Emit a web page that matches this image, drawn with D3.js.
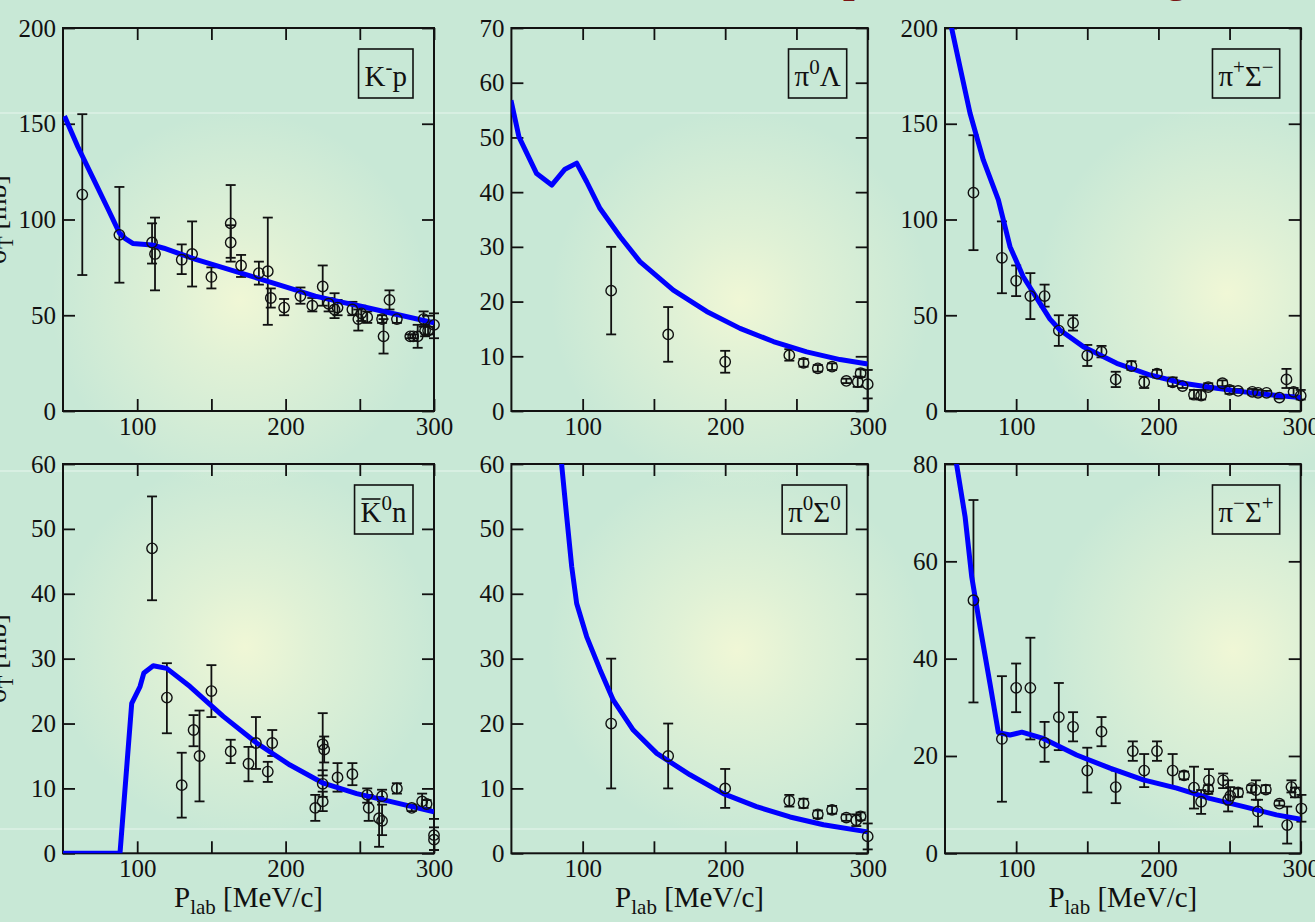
<!DOCTYPE html>
<html>
<head>
<meta charset="utf-8">
<script src="https://cdn.jsdelivr.net/npm/d3@7"></script>
<style>
  html, body { margin: 0; padding: 0; overflow: hidden; background: #c8e8d6; }
  svg { display: block; }
  text { font-family: "Liberation Serif", "Times New Roman", serif; fill: #111; }
</style>
</head>
<body>
<svg id="chart" width="1315" height="922"></svg>
<script>
// ---- data: [P_lab, sigma] for curves, [P_lab, sigma, low, high] for points ----
const xDomain = [50, 300];
const xTicks = [100, 150, 200, 250, 300];
const xTickLabels = [100, 200, 300];

const kpYTicks = [0, 50, 100, 150, 200];
const pi0LambdaYTicks = [0, 10, 20, 30, 40, 50, 60, 70];
const pipSigmamYTicks = [0, 50, 100, 150, 200];
const k0nYTicks = [0, 10, 20, 30, 40, 50, 60];
const pi0Sigma0YTicks = [0, 10, 20, 30, 40, 50, 60];
const pimSigmapYTicks = [0, 20, 40, 60, 80];

// labels as [text, kind] pieces: '' normal, 'sup' superscript, 'bar' overlined
const kpLabel = [['K', ''], ['-', 'sup'], ['p', '']];
const pi0LambdaLabel = [['π', ''], ['0', 'sup'], ['Λ', '']];
const pipSigmamLabel = [['π', ''], ['+', 'sup'], ['Σ', ''], ['−', 'sup']];
const k0nLabel = [['K', 'bar'], ['0', 'sup'], ['n', '']];
const pi0Sigma0Label = [['π', ''], ['0', 'sup'], ['Σ', ''], ['0', 'sup']];
const pimSigmapLabel = [['π', ''], ['−', 'sup'], ['Σ', ''], ['+', 'sup']];

const kpCurve = [[51, 154], [60, 138], [70, 122], [80, 106], [88, 93], [92, 90], [97, 87.5],
  [110, 86.7], [118, 85], [140, 79], [170, 72], [200, 64.8], [220, 60], [237, 57],
  [250, 54.8], [270, 51.3], [300, 46]];
const kpData = [
  [63, 113, 71, 155], [88, 92, 67, 117], [110, 88, 77, 98], [112, 82, 63, 101],
  [130, 79, 71.5, 87], [137, 82, 65, 99], [150, 70, 64, 75], [163, 98, 78, 118],
  [163, 88, 80, 97], [170, 76, 70, 81.5], [182, 72, 66, 78], [188, 73, 45, 101],
  [190, 59, 54, 64], [199, 54, 50, 58.5], [210, 60, 56, 64.5], [218, 55, 52, 59],
  [225, 65, 55, 76], [229, 56, 52, 59], [233, 53, 48.5, 61.5], [235, 54, 50, 58],
  [245, 53, 50, 57], [249, 48, 42, 53], [251, 51, 47, 55], [255, 49, 46, 52],
  [265, 48, 46, 50], [266, 39, 30, 48], [270, 58, 53, 63], [275, 48, 46, 50],
  [284, 39, 38, 40], [286, 39, 38, 40], [289, 39, 33, 45], [293, 48, 44, 52],
  [294, 42, 39, 45], [296, 42, 40, 44], [300, 45, 38, 51]
];

const pi0LambdaCurve = [[49.7, 56.8], [55.3, 50.1], [67.7, 43.4], [78.3, 41.3], [87.6, 44.2],
  [95.8, 45.3], [102.8, 41.9], [112.2, 37], [126.2, 31.9], [140.2, 27.3], [163.6, 22.1],
  [187, 18.2], [210.4, 15.1], [233.8, 12.7], [257.2, 10.8], [280.6, 9.4], [300, 8.6]];
const pi0LambdaData = [
  [120, 22, 14, 30], [160, 14, 9, 19], [200, 9, 7, 11], [245, 10.2, 9.2, 11.3],
  [255, 8.8, 8.1, 9.5], [265, 7.8, 7.2, 8.4], [275, 8.1, 7.5, 8.7], [285, 5.5, 5.1, 5.9],
  [293, 5.3, 4.4, 6.3], [295, 6.9, 6.2, 7.6], [300, 4.9, 2.3, 7.5]
];

const pipSigmamCurve = [[53, 205], [54.7, 199.8], [60.5, 179.8], [67.6, 155.5], [76.9, 131.1],
  [87.5, 110.2], [95.7, 85.8], [105, 70.1], [116.8, 56.2], [123.8, 48], [130.8, 42.3],
  [147.2, 33.6], [170.7, 24.9], [194.1, 18.8], [217.5, 14.5], [240.9, 11.9], [264.3, 9.6],
  [287.7, 7.8], [300, 7.1]];
const pipSigmamData = [
  [70, 114, 84, 144], [90, 80, 61.5, 99], [100, 68, 60, 76], [110, 60, 48, 72],
  [120, 60, 54.5, 66], [130, 42, 34, 50], [140, 46, 42, 50], [150, 29, 23.5, 34.5],
  [160, 31, 28, 34], [170, 16.5, 12.5, 20.5], [181, 23.5, 21.5, 26], [190, 15, 12, 18],
  [199, 19.5, 17.5, 21.5], [210, 15, 13, 17.5], [217, 13, 12, 14], [225, 8.5, 6.5, 11],
  [230, 8, 6, 11], [235, 12.5, 11, 14.5], [245, 14.5, 13, 16], [250, 11, 9, 13],
  [256, 10.5, 9.5, 11.5], [266, 10, 8.5, 11.5], [270, 9.5, 8, 11], [276, 9.5, 8.5, 10.5],
  [285, 7, 6.5, 7.5], [290, 16.5, 12, 22], [295, 10, 8, 12], [300, 8, 6, 11]
];

const k0nCurve = [[50, 0], [88.4, 0], [96.3, 23.1], [101.9, 25.7], [104.5, 27.8], [110.8, 28.9],
  [119.9, 28.5], [135.6, 25.7], [158, 21.1], [180.5, 17], [203, 13.6], [225.4, 10.8],
  [247.9, 9.2], [270.4, 8], [300, 6.4]];
const k0nData = [
  [110, 47, 39, 55], [120, 24, 18.5, 29.3], [130, 10.5, 5.5, 15.5], [138, 19, 16.5, 21.3],
  [142, 15, 8, 22], [150, 25, 21, 29], [163, 15.7, 13.9, 17.5], [175, 13.8, 11.1, 16.4],
  [180, 17, 13, 21], [188, 12.6, 11, 14.1], [191, 17, 15, 19], [220, 7, 5, 9],
  [225, 16.8, 12, 21.6], [226, 16, 14, 18], [225, 10.7, 8.7, 12.8], [225, 8, 6.5, 9.5],
  [235, 11.7, 9.5, 13.9], [245, 12.2, 10.5, 13.9], [255, 9, 7.8, 10], [256, 7, 5, 9],
  [263, 5.4, 1, 8.7], [265, 5, 2.8, 7.5], [265, 8.8, 8, 9.8], [275, 10, 9.2, 10.8],
  [285, 7, 6.5, 7.5], [292, 8, 7, 9.2], [295, 7.6, 7, 8.2], [300, 2.8, 0.5, 5.3],
  [300, 2.1, 0.5, 4]
];

const pi0Sigma0Curve = [[84.6, 63], [85.3, 59.8], [88.8, 51.9], [92.3, 44.2], [95.8, 38.5],
  [102.8, 33.4], [112.2, 28.3], [121.5, 23.6], [135.5, 19], [152, 15.4], [175.3, 12.1],
  [198.7, 9.2], [222, 7.2], [245.5, 5.6], [269, 4.4], [300, 3.3]];
const pi0Sigma0Data = [
  [120, 20, 10, 30], [160, 15, 10, 20], [200, 10, 7, 13], [245, 8.1, 7.2, 9],
  [255, 7.7, 7, 8.4], [265, 6, 5.4, 6.6], [275, 6.7, 6.1, 7.3], [285, 5.5, 5, 6],
  [292, 5.1, 4.2, 6], [295, 5.7, 5.1, 6.3], [300, 2.6, 0.6, 4.6]
];

const pimSigmapCurve = [[57.5, 82], [58.2, 79.8], [64.1, 69.2], [68.8, 56.8], [74.6, 46.6],
  [81.6, 34.9], [87.5, 24.8], [95.7, 24.3], [104, 24.9], [119, 23.6], [142.5, 20.2],
  [166, 17.5], [189.4, 15.1], [212.8, 13.4], [236, 11.3], [260, 9.6], [283, 7.9], [300, 7]];
const pimSigmapData = [
  [70, 52, 31, 72.6], [90, 23.5, 10.6, 36.4], [100, 34, 29, 39], [110, 34, 23.4, 44.3],
  [120, 22.7, 18.8, 27], [130, 28, 21.2, 35], [140, 26, 23, 29], [150, 17, 12.5, 21.7],
  [160, 25, 22, 28], [170, 13.6, 10.3, 17], [182, 21, 19, 23], [190, 17, 13.6, 20.4],
  [199, 21, 19, 23], [210, 17, 13.6, 20.4], [218, 16, 15.2, 16.8], [225, 13.5, 9.2, 17.8],
  [230, 10.6, 8.1, 13], [235, 13.2, 12.2, 14], [235.5, 15, 12.7, 17.3], [245.5, 15, 13.4, 16.4],
  [249, 11, 8.6, 15], [250.5, 11.8, 10, 13.6], [256, 12.5, 11.6, 13.3], [265.5, 13.4, 12.5, 14],
  [268.5, 13, 11, 15], [270, 8.6, 5.5, 11], [275.5, 13.1, 12.4, 14], [285, 10.2, 9.8, 10.8],
  [290.5, 5.8, 2, 9.6], [293.5, 13.6, 12.5, 15], [296, 12.5, 11.5, 13.5], [300.5, 9.2, 6.5, 12]
];

// ---- layout ----
const width = 1315;
const height = 922;
// plot frames: [left, top, right, bottom]
const frames = [
  [63, 28, 434, 411], [511.4, 28, 867.7, 411], [945, 28, 1300.7, 411],
  [63, 464, 434, 853.3], [511.4, 464, 867.7, 853.3], [945, 464, 1300.7, 853.3]
];
const glowCenters = [[240, 300], [740, 300], [1227, 293], [245, 647], [737, 650], [1233, 650]];
const bgColor = '#c8e8d6';
const glowColor = '#f0f7d6';
const curveColor = '#0000ff';
const inkColor = '#111';
const tickLen = 12;

const panels = [
  { label: kpLabel, yTicks: kpYTicks, curve: kpCurve, points: kpData },
  { label: pi0LambdaLabel, yTicks: pi0LambdaYTicks, curve: pi0LambdaCurve, points: pi0LambdaData },
  { label: pipSigmamLabel, yTicks: pipSigmamYTicks, curve: pipSigmamCurve, points: pipSigmamData },
  { label: k0nLabel, yTicks: k0nYTicks, curve: k0nCurve, points: k0nData },
  { label: pi0Sigma0Label, yTicks: pi0Sigma0YTicks, curve: pi0Sigma0Curve, points: pi0Sigma0Data },
  { label: pimSigmapLabel, yTicks: pimSigmapYTicks, curve: pimSigmapCurve, points: pimSigmapData }
];

const svg = d3.select('#chart');
const defs = svg.append('defs');

function drawBackground() {
  svg.append('rect').attr('width', width).attr('height', height).attr('fill', bgColor);

  glowCenters.forEach(([cx, cy], i) => {
    const grad = defs.append('radialGradient').attr('id', 'glow' + i);
    grad.append('stop').attr('offset', '0%').attr('stop-color', glowColor).attr('stop-opacity', 1);
    grad.append('stop').attr('offset', '35%').attr('stop-color', glowColor).attr('stop-opacity', 0.6);
    grad.append('stop').attr('offset', '100%').attr('stop-color', glowColor).attr('stop-opacity', 0);
    svg.append('circle')
      .attr('cx', cx).attr('cy', cy).attr('r', 190)
      .attr('fill', `url(#glow${i})`);
  });

  // faint light streaks of the slide
  [113, 471, 829].forEach(yy => {
    svg.append('line')
      .attr('x1', 0).attr('x2', width).attr('y1', yy).attr('y2', yy)
      .attr('stroke', '#fff').attr('stroke-opacity', 0.3).attr('stroke-width', 2);
  });

  // descenders of the slide title, cut off at the top edge
  svg.append('text').attr('x', 843).attr('y', -8)
    .style('font-size', '42px').style('font-weight', 'bold').style('fill', '#7a1414').text('p');
  svg.append('text').attr('x', 1166).attr('y', -8)
    .style('font-size', '42px').style('font-weight', 'bold').style('fill', '#7a1414').text('g');
}

function drawPanel(p, i) {
  const [l, t, r, b] = frames[i];
  const yDomain = d3.extent(p.yTicks);
  const x = d3.scaleLinear().domain(xDomain).range([l, r]);
  const y = d3.scaleLinear().domain(yDomain).range([b, t]);
  const g = svg.append('g').attr('class', 'panel');

  defs.append('clipPath').attr('id', 'clip' + i)
    .append('rect').attr('x', l).attr('y', t).attr('width', r - l).attr('height', b - t);

  // axes with inward ticks on all four sides
  const fmt = d => xTickLabels.includes(d) ? d : '';
  g.append('g').attr('transform', `translate(0,${b})`)
    .call(d3.axisBottom(x).tickValues(xTicks).tickSize(-tickLen).tickPadding(6).tickFormat(fmt));
  g.append('g').attr('transform', `translate(0,${t})`)
    .call(d3.axisTop(x).tickValues(xTicks).tickSize(-tickLen).tickFormat(''));
  g.append('g').attr('transform', `translate(${l},0)`)
    .call(d3.axisLeft(y).tickValues(p.yTicks).tickSize(-tickLen).tickPadding(7));
  g.append('g').attr('transform', `translate(${r},0)`)
    .call(d3.axisRight(y).tickValues(p.yTicks).tickSize(-tickLen).tickFormat(''));

  g.selectAll('.domain').remove();
  g.selectAll('.tick line').attr('stroke', inkColor).attr('stroke-width', 1.8);
  g.selectAll('.tick text')
    .attr('fill', inkColor)
    .style('font-family', '"Liberation Serif", serif')
    .style('font-size', '25px');

  // frame
  g.append('rect')
    .attr('x', l).attr('y', t).attr('width', r - l).attr('height', b - t)
    .attr('fill', 'none').attr('stroke', inkColor).attr('stroke-width', 2);

  // error bars
  const bars = g.append('g').attr('stroke', inkColor).attr('stroke-width', 1.8);
  bars.selectAll('line.err')
    .data(p.points)
    .join('line').attr('class', 'err')
    .attr('x1', d => x(d[0])).attr('x2', d => x(d[0]))
    .attr('y1', d => y(d[2])).attr('y2', d => y(d[3]));
  bars.selectAll('line.cap')
    .data(p.points.flatMap(d => [[d[0], d[2]], [d[0], d[3]]]))
    .join('line').attr('class', 'cap')
    .attr('x1', d => x(d[0]) - 5).attr('x2', d => x(d[0]) + 5)
    .attr('y1', d => y(d[1])).attr('y2', d => y(d[1]));

  // theory curve
  g.append('path')
    .datum(p.curve)
    .attr('clip-path', `url(#clip${i})`)
    .attr('fill', 'none')
    .attr('stroke', curveColor)
    .attr('stroke-width', 5)
    .attr('stroke-linejoin', 'round')
    .attr('d', d3.line().x(d => x(d[0])).y(d => y(d[1])));

  // open circles
  g.append('g').selectAll('circle')
    .data(p.points)
    .join('circle')
    .attr('cx', d => x(d[0])).attr('cy', d => y(d[1])).attr('r', 5.2)
    .attr('fill', 'none').attr('stroke', inkColor).attr('stroke-width', 1.4);

  // reaction label in a box
  const box = g.append('rect').attr('fill', 'none').attr('stroke', inkColor).attr('stroke-width', 1.6);
  const label = g.append('text').style('font-size', '29px').attr('x', 0).attr('y', t + 58);
  let up = false;
  p.label.forEach(([s, kind]) => {
    const ts = label.append('tspan').text(s);
    if (kind === 'sup') {
      ts.style('font-size', '21px').attr('dy', up ? 0 : -12);
      up = true;
    } else {
      if (up) ts.attr('dy', 12);
      up = false;
    }
  });
  const bb = label.node().getBBox();
  const boxRight = r - 21;
  const boxW = bb.width + 12;
  const boxX = boxRight - boxW;
  label.attr('x', boxX + 6 - bb.x);
  box.attr('x', boxX).attr('y', t + 21).attr('width', boxW).attr('height', 49);

  // overline on anti-kaon
  p.label.forEach(([s, kind], k) => {
    if (kind !== 'bar') return;
    const ext = label.node().getExtentOfChar(k);
    g.append('line')
      .attr('x1', ext.x + 1).attr('x2', ext.x + ext.width - 1)
      .attr('y1', ext.y + 3).attr('y2', ext.y + 3)
      .attr('stroke', inkColor).attr('stroke-width', 1.6);
  });

  // axis titles
  if (i >= 3) {
    const xt = g.append('text')
      .attr('x', (l + r) / 2).attr('y', b + 54)
      .attr('text-anchor', 'middle')
      .style('font-size', '29px');
    xt.append('tspan').text('P');
    xt.append('tspan').text('lab').style('font-size', '21px').attr('dy', 7);
    xt.append('tspan').text(' [MeV/c]').attr('dy', -7);
  }
  if (i % 3 === 0) {
    const yt = g.append('text')
      .attr('transform', `translate(5.5,${(t + b) / 2}) rotate(-90)`)
      .attr('text-anchor', 'middle')
      .style('font-size', '28px');
    yt.append('tspan').text('σ');
    yt.append('tspan').text('T').style('font-size', '20px').attr('dy', 7);
    yt.append('tspan').text(' [mb]').attr('dy', -7);
  }
}

drawBackground();
panels.forEach(drawPanel);
</script>
</body>
</html>
